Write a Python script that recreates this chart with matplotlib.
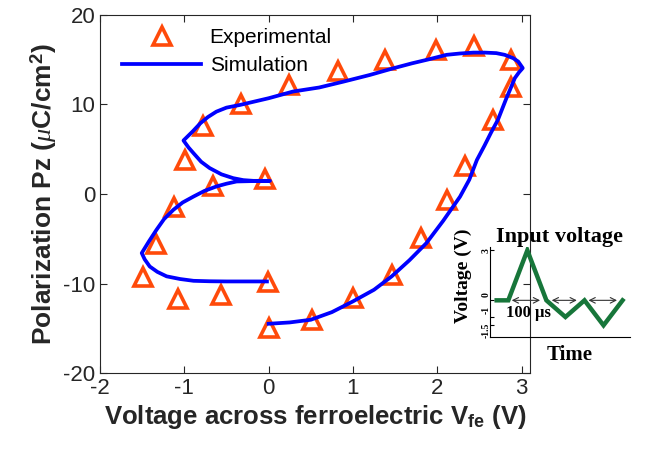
import matplotlib
matplotlib.use('Agg')
import matplotlib.pyplot as plt
import matplotlib.transforms as mtransforms
import numpy as np

plt.rcParams['font.family'] = ['Liberation Sans', 'DejaVu Sans']
plt.rcParams['axes.unicode_minus'] = False
plt.rcParams['mathtext.fontset'] = 'custom'
plt.rcParams['mathtext.rm'] = 'Liberation Sans'
plt.rcParams['mathtext.bf'] = 'Liberation Sans:bold'
plt.rcParams['mathtext.it'] = 'Liberation Serif:italic'

# experimental points (V, uC/cm2)
expV = [0.24, 0.82, 1.38, 1.98, 2.44, 2.88, 2.88, 2.66, 2.33, 2.11, 1.81, 1.46, 1.00, 0.52,
        0.00, -0.01, -0.57, -1.08, -1.49, -1.33, -1.12, -0.66, -0.04, -0.99, -0.78, -0.33]
expP = [12.2, 13.75, 15.0, 16.1, 16.5, 15.0, 11.9, 8.3, 3.1, -0.65, -4.9, -9.0, -11.6, -14.05,
        -15.0, -9.8, -11.3, -11.7, -9.3, -5.6, -1.5, 0.85, 1.7, 3.8, 7.6, 10.0]

# simulation curve
simV = [0.0, 0.25, 0.5, 0.75, 1.0, 1.25, 1.46, 1.67, 1.87, 2.07, 2.27, 2.38, 2.47, 2.56, 2.64, 2.72,
        2.77, 2.82, 2.87, 2.92, 2.97, 3.014,
        2.96, 2.90, 2.80, 2.70, 2.56, 2.43, 2.27, 2.11, 1.91, 1.70, 1.48, 1.20, 0.885, 0.60, 0.29, 0.0,
        -0.34, -0.50, -0.62, -0.72, -0.81, -0.90, -1.01,
        -0.95, -0.89, -0.80, -0.70, -0.56, -0.42, -0.30, -0.18, 0.016,
        -0.20, -0.38, -0.50, -0.62, -0.76, -0.89, -1.02, -1.13, -1.24, -1.33, -1.42, -1.505,
        -1.47, -1.41, -1.32, -1.21, -1.05, -0.89, -0.70, -0.50, -0.25, -0.02]
simP = [-14.5, -14.35, -14.05, -13.2, -12.0, -10.7, -9.2, -7.4, -5.5, -3.0, -0.3, 1.6, 3.8, 5.4, 6.9, 8.3,
        9.5, 10.7, 11.8, 12.95, 13.6, 14.07,
        14.8, 15.18, 15.55, 15.74, 15.8, 15.8, 15.7, 15.55, 15.07, 14.6, 14.05, 13.3, 12.55, 11.9, 11.45, 10.7,
        9.95, 9.65, 9.2, 8.6, 7.9, 7.0, 5.98,
        5.2, 4.55, 3.6, 2.9, 2.2, 1.77, 1.55, 1.47, 1.47,
        1.44, 1.40, 1.15, 0.84, 0.35, -0.28, -0.95, -1.77, -2.8, -4.0, -5.3, -6.6,
        -7.3, -8.1, -8.7, -9.2, -9.5, -9.7, -9.75, -9.77, -9.77, -9.77]

# inset: input voltage waveform
tIn = [0.0, 0.61, 1.61, 2.61, 3.61, 4.61, 5.61, 6.61]
vIn = [0, 0, 3, 0, -1, 0, -1.5, 0]
arrowSpans = [(0.79, 2.28), (2.89, 4.21), (4.82, 6.32)]
insetTicks = [3, 0, -1, -1.5]
insetTickLabels = ['3', '0', '-1', '-1.5']

fig = plt.figure(figsize=(6.47, 4.53), dpi=100)
ax = fig.add_axes([100/647, 1-373/453, 430/647, 358/453])

ax.plot(expV, expP, ls='none', marker='^', markersize=13, markerfacecolor='none',
        markeredgecolor='#FF4A0A', markeredgewidth=2.6, label='Experimental', zorder=3)
ax.plot(simV, simP, color='#0000FF', lw=2.7, label='Simulation', zorder=4)

ax.set_xlim(-2, 3.1)
ax.set_ylim(-20, 20)
ax.set_xticks([-2, -1, 0, 1, 2, 3])
ax.set_yticks([-20, -10, 0, 10, 20])
ax.tick_params(direction='in', top=True, right=True, labelsize=16, colors='#262626', length=5)
for s in ax.spines.values():
    s.set_color('#262626')
ax.set_xlabel(r'Voltage across ferroelectric V$_{\mathbf{fe}}$ (V)', fontsize=18.5, fontweight='bold',
              color='#262626', labelpad=3)
ax.set_ylabel(r'Polarization Pz ($\mu$C/cm$^{\mathbf{2}}$)', fontsize=19, fontweight='bold',
              color='#262626', labelpad=3)
ax.legend(loc='upper left', bbox_to_anchor=(0.042, 0.975), frameon=False, fontsize=15,
          handlelength=3.8, labelspacing=0.44, borderaxespad=0, borderpad=0.2, handletextpad=0.4)

# inset
axi = fig.add_axes([490/647, 1-337/453, 140/647, 90/453])
axi.patch.set_visible(False)
axi.plot(tIn, vIn, color='#17763A', lw=3.2, solid_joinstyle='miter')
for a, b in arrowSpans:
    axi.annotate('', xy=(a, 0), xytext=(b, 0),
                 arrowprops=dict(arrowstyle='<->', color='#333333', lw=0.8, shrinkA=0, shrinkB=0))
axi.set_xlim(-0.35, 7.0)
axi.set_ylim(-2.2, 3.2)
axi.set_xticks([])
axi.set_yticks(insetTicks)
axi.set_yticklabels([])
axi.tick_params(axis='y', direction='in', length=3)
# tick labels drawn by hand: packed together like in the original
ylblTrans = mtransforms.blended_transform_factory(axi.transAxes, axi.transData)
for v, s, dy in zip(insetTicks, insetTickLabels, [0, 3.8, 5.0, -3.4]):
    axi.text(-0.03, v, s, rotation=90, ha='center', va='center', fontsize=7, fontweight='bold',
             family='Liberation Serif',
             transform=ylblTrans + mtransforms.ScaledTranslation(0, dy/72, fig.dpi_scale_trans))
axi.spines['top'].set_visible(False)
axi.spines['right'].set_visible(False)
axi.set_title('Input voltage', fontsize=16, fontweight='bold', family='Liberation Serif', pad=2)
axi.text(0.271, 0.267, '100 µs', transform=axi.transAxes, ha='center', va='center',
         fontsize=12, fontweight='bold', family='Liberation Serif')
axi.text(0.571, -0.2, 'Time', transform=axi.transAxes, ha='center', va='center',
         fontsize=15, fontweight='bold', family='Liberation Serif')
axi.text(-0.19, 0.68, 'Voltage (V)', transform=axi.transAxes, ha='center', va='center', rotation=90,
         fontsize=14, fontweight='bold', family='Liberation Serif')

fig.savefig('out.png', dpi=100)
